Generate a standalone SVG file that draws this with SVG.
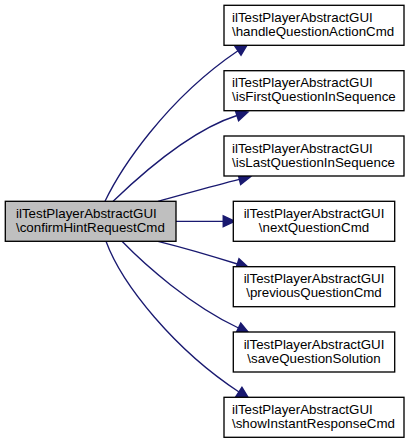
<svg xmlns="http://www.w3.org/2000/svg" width="413" height="444" viewBox="0 0 413 444">
<style>
.node rect{fill:#ffffff;stroke:#000000;stroke-width:1.33}
#root rect{fill:#bfbfbf}
text{font-family:"Liberation Sans",Arial,Helvetica,sans-serif;font-size:13.33px;fill:#000000}
.edges path{fill:none;stroke:#191970;stroke-width:1.33}
</style>
<defs>
<marker id="ah" markerUnits="userSpaceOnUse" markerWidth="12" markerHeight="12" refX="0" refY="0" viewBox="0 -5 10.5 10" orient="auto" overflow="visible">
<path d="M0,-4.7 L10,0 L0,4.7 Z" fill="#191970" stroke="#191970" stroke-width="1.33"/>
</marker>
</defs>
<rect width="413" height="444" fill="#ffffff"/>
<g class="edges">
<path d="M105,201.3 C120,170 165,100 238,50.7" marker-end="url(#ah)"/>
<path d="M113,201.3 C130,185 185,132 237,115.5" marker-end="url(#ah)"/>
<path d="M158,201.3 C185,194 212,186 239.4,179.3" marker-end="url(#ah)"/>
<path d="M176,221.3 L223.3,221.3" marker-end="url(#ah)"/>
<path d="M158,241.3 C185,248 212,256 237.4,264" marker-end="url(#ah)"/>
<path d="M122,241.3 C145,265 190,305 238.5,328" marker-end="url(#ah)"/>
<path d="M106,241.3 C122,285 175,350 239,392" marker-end="url(#ah)"/>
</g>
<g id="root" class="node">
<rect x="5.3" y="201.3" width="170.7" height="40"/>
<text x="16" y="218">ilTestPlayerAbstractGUI</text>
<text x="16" y="232">\confirmHintRequestCmd</text>
</g>
<g id="n1" class="node">
<rect x="224" y="5.3" width="180" height="40"/>
<text x="232" y="22">ilTestPlayerAbstractGUI</text>
<text x="232" y="36">\handleQuestionActionCmd</text>
</g>
<g id="n2" class="node">
<rect x="224" y="70.7" width="180" height="40"/>
<text x="232" y="87.4">ilTestPlayerAbstractGUI</text>
<text x="232" y="101.4">\isFirstQuestionInSequence</text>
</g>
<g id="n3" class="node">
<rect x="224" y="136" width="180" height="40"/>
<text x="232" y="152.7">ilTestPlayerAbstractGUI</text>
<text x="232" y="166.7">\isLastQuestionInSequence</text>
</g>
<g id="n4" class="node">
<rect x="233.3" y="201.3" width="161.4" height="40"/>
<text x="314" y="218" text-anchor="middle">ilTestPlayerAbstractGUI</text>
<text x="314" y="232" text-anchor="middle">\nextQuestionCmd</text>
</g>
<g id="n5" class="node">
<rect x="233.3" y="266.7" width="161.4" height="40"/>
<text x="314" y="283.4" text-anchor="middle">ilTestPlayerAbstractGUI</text>
<text x="314" y="297.4" text-anchor="middle">\previousQuestionCmd</text>
</g>
<g id="n6" class="node">
<rect x="233.3" y="332" width="161.4" height="40"/>
<text x="314" y="348.7" text-anchor="middle">ilTestPlayerAbstractGUI</text>
<text x="314" y="362.7" text-anchor="middle">\saveQuestionSolution</text>
</g>
<g id="n7" class="node">
<rect x="224" y="397.3" width="180" height="40"/>
<text x="232" y="414">ilTestPlayerAbstractGUI</text>
<text x="232" y="428">\showInstantResponseCmd</text>
</g>
</svg>
